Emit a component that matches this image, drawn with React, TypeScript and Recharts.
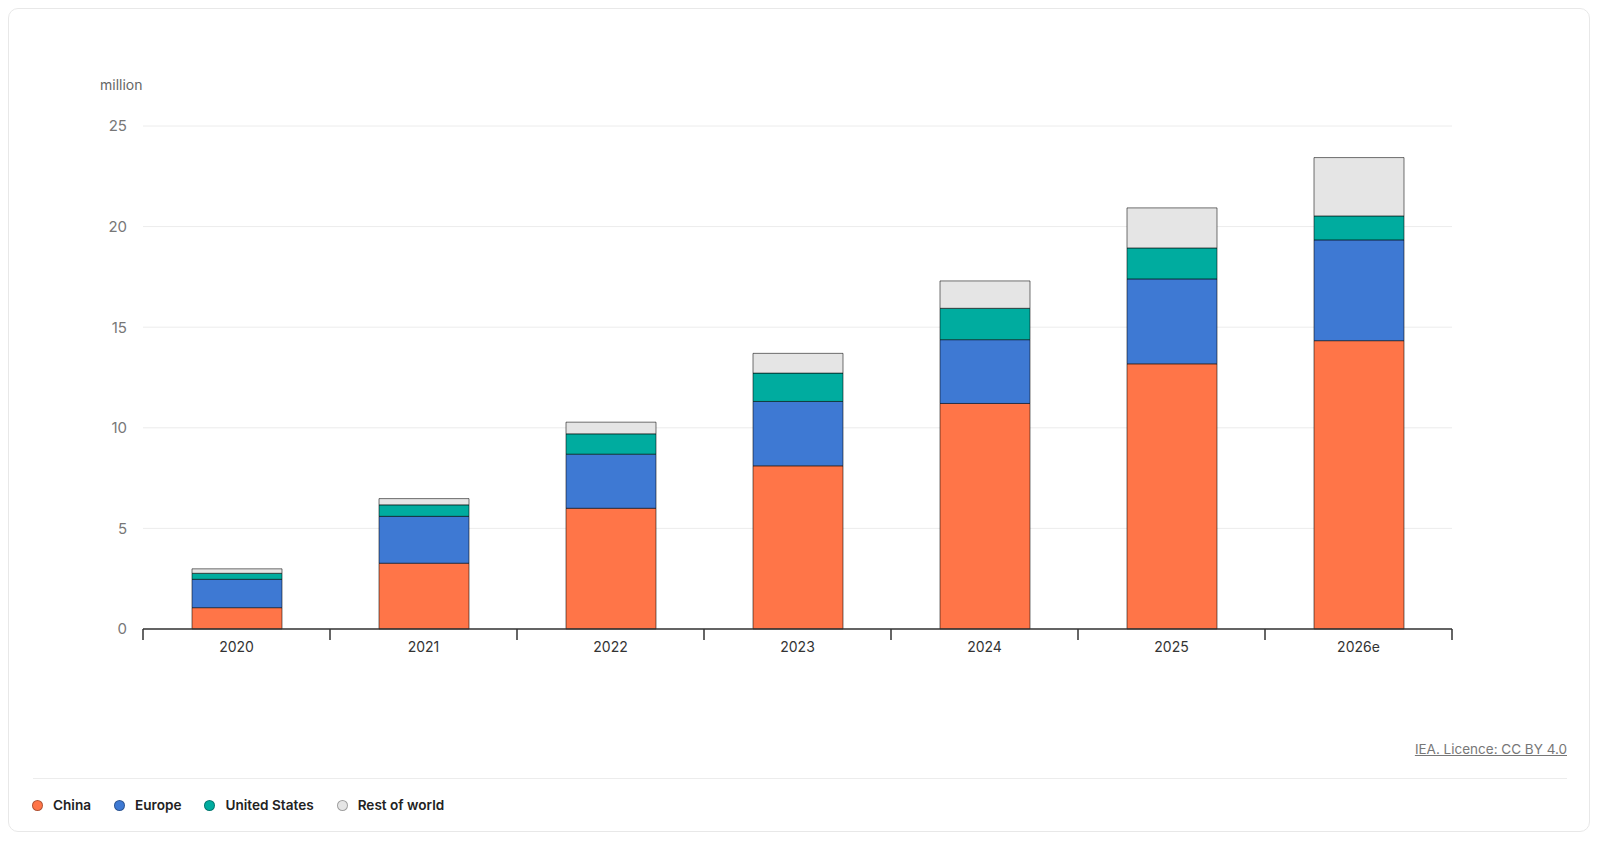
import React from "react";
import { BarChart, Bar, XAxis, YAxis, CartesianGrid } from "recharts";

const YEARS = ["2020", "2021", "2022", "2023", "2024", "2025", "2026e"];
const CHINA = [1.06, 3.27, 6.0, 8.11, 11.21, 13.18, 14.33];
const EUROPE = [1.41, 2.33, 2.69, 3.2, 3.17, 4.22, 5.01];
const UNITED_STATES = [0.3, 0.57, 1.01, 1.41, 1.56, 1.54, 1.19];
const REST_OF_WORLD = [0.22, 0.31, 0.58, 0.98, 1.36, 1.99, 2.9];
const Y_TICKS = [0, 5, 10, 15, 20, 25];

const SERIES = [
  { key: "china", name: "China", color: "#FF7548" },
  { key: "europe", name: "Europe", color: "#3E79D3" },
  { key: "us", name: "United States", color: "#00AC9F" },
  { key: "row", name: "Rest of world", color: "#E5E5E5" },
];

const data = YEARS.map((year, i) => ({
  year,
  china: CHINA[i],
  europe: EUROPE[i],
  us: UNITED_STATES[i],
  row: REST_OF_WORLD[i],
}));

const FONT = "Inter, 'Noto Sans', sans-serif";
const CHART_W = 1500;
const MARGIN = { top: 117, right: 57, bottom: 50, left: 0 };
const Y_AXIS_W = 134;
// half a category band, used when the tick payload has no offset
const HALF_BAND = (CHART_W - MARGIN.left - MARGIN.right - Y_AXIS_W) / YEARS.length / 2;

// category label plus separator ticks at the band edges
function YearTick(props: any) {
  const { x, y, payload, index } = props;
  const off = payload && payload.offset ? payload.offset : HALF_BAND;
  const last = index === YEARS.length - 1;
  return (
    <g>
      <line x1={x - off} y1={y} x2={x - off} y2={y + 11} stroke="#333" strokeWidth={1.5} />
      {last && <line x1={x + off} y1={y} x2={x + off} y2={y + 11} stroke="#333" strokeWidth={1.5} />}
      <text
        x={x}
        y={y + 19}
        textAnchor="middle"
        dominantBaseline="middle"
        fontSize={14}
        fill="#333"
        fontFamily={FONT}
      >
        {payload.value}
      </text>
    </g>
  );
}

export default function App() {
  return (
    <div
      style={{
        position: "relative",
        width: 1580,
        height: 822,
        border: "1px solid #e8e8e8",
        borderRadius: 10,
        background: "#fff",
        fontFamily: FONT,
      }}
    >
      <div style={{ position: "absolute", left: 91, top: 67, fontSize: 14, color: "#666" }}>
        million
      </div>

      <div style={{ position: "absolute", left: 0, top: 0 }}>
        <BarChart width={CHART_W} height={700} data={data} margin={MARGIN}>
          <CartesianGrid vertical={false} stroke="#ececec" strokeWidth={1} />
          <XAxis
            dataKey="year"
            height={30}
            axisLine={{ stroke: "#333", strokeWidth: 1.5 }}
            tickLine={false}
            tickSize={0}
            tickMargin={0}
            interval={0}
            tick={<YearTick />}
          />
          <YAxis
            width={Y_AXIS_W}
            domain={[0, 25]}
            ticks={Y_TICKS}
            axisLine={false}
            tickLine={false}
            tickSize={0}
            tickMargin={16}
            tick={{ fontSize: 15, fill: "#777", fontFamily: FONT }}
          />
          {SERIES.map((s) => (
            <Bar
              key={s.key}
              dataKey={s.key}
              name={s.name}
              stackId="a"
              fill={s.color}
              stroke="rgba(0,0,0,0.55)"
              strokeWidth={1}
              barSize={90}
              isAnimationActive={false}
            />
          ))}
        </BarChart>
      </div>

      <div
        style={{
          position: "absolute",
          right: 22,
          top: 732,
          fontSize: 13.5,
          color: "#777",
          textDecoration: "underline",
        }}
      >
        IEA. Licence: CC BY 4.0
      </div>

      <div
        style={{
          position: "absolute",
          left: 24,
          right: 22,
          top: 769,
          borderTop: "1px solid #ececec",
        }}
      />

      <div
        style={{
          position: "absolute",
          left: 23,
          top: 788,
          display: "flex",
          alignItems: "center",
          fontSize: 13.6,
          fontWeight: 600,
          color: "#222",
        }}
      >
        {SERIES.map((s) => (
          <div key={s.key} style={{ display: "flex", alignItems: "center", marginRight: 23 }}>
            <span
              style={{
                display: "inline-block",
                width: 9,
                height: 9,
                borderRadius: "50%",
                background: s.color,
                border: "1px solid rgba(0,0,0,0.3)",
                marginRight: 10,
              }}
            />
            <span>{s.name}</span>
          </div>
        ))}
      </div>
    </div>
  );
}
